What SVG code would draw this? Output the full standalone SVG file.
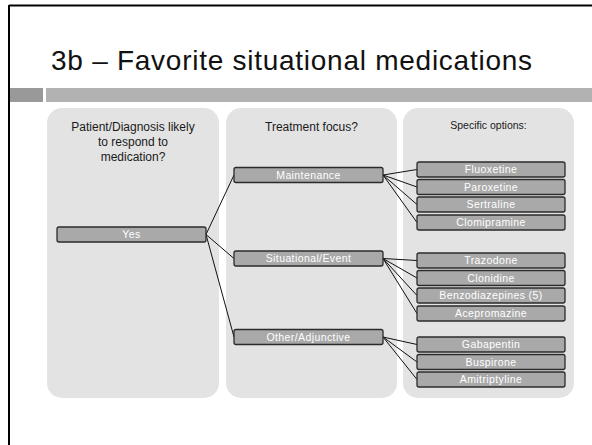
<svg xmlns="http://www.w3.org/2000/svg" width="592" height="445" viewBox="0 0 592 445">
<style>
.panel{fill:#e3e3e3}
.hdr{font-family:"Liberation Sans",Arial,sans-serif;font-size:12px;fill:#1a1a1a;text-anchor:middle}
.box{fill:#a9a9a9;stroke:#2b2b2b;stroke-width:1.3}
.lbl{font-family:"Liberation Sans",Arial,sans-serif;font-size:10.5px;letter-spacing:0.4px;fill:#ffffff;text-anchor:middle}
.con line{stroke:#111;stroke-width:1}
</style>
<rect x="0" y="0" width="592" height="445" fill="#ffffff"/>
<line x1="9" y1="5.5" x2="592" y2="5.5" stroke="#000" stroke-width="2"/>
<line x1="9" y1="5" x2="9" y2="445" stroke="#000" stroke-width="2"/>
<text x="51" y="70" font-family="'Liberation Sans',Arial,sans-serif" font-size="28" fill="#111" textLength="481" lengthAdjust="spacing">3b – Favorite situational medications</text>
<rect x="10" y="88" width="33" height="14" fill="#999999"/>
<rect x="46" y="88" width="546" height="14" fill="#b2b2b2"/>
<g id="panels">
<rect class="panel" x="47" y="108" width="172" height="290" rx="15"/>
<rect class="panel" x="226" y="108" width="171" height="290" rx="15"/>
<rect class="panel" x="403" y="108" width="171" height="290" rx="15"/>
<text class="hdr" x="133" y="131">Patient/Diagnosis likely</text>
<text class="hdr" x="133" y="146">to respond to</text>
<text class="hdr" x="133" y="161">medication?</text>
<text class="hdr" x="311.5" y="131">Treatment focus?</text>
<text class="hdr" x="488.5" y="129" style="font-size:10.5px">Specific options:</text>
</g>
<g id="connectors" class="con">
<line x1="206" y1="234.5" x2="234" y2="175"/>
<line x1="206" y1="234.5" x2="234" y2="258.5"/>
<line x1="206" y1="234.5" x2="234" y2="337"/>
<line x1="383" y1="175" x2="417" y2="169.5"/>
<line x1="383" y1="175" x2="417" y2="187"/>
<line x1="383" y1="175" x2="417" y2="204.5"/>
<line x1="383" y1="175" x2="417" y2="222.5"/>
<line x1="383" y1="258.5" x2="417" y2="260.5"/>
<line x1="383" y1="258.5" x2="417" y2="278"/>
<line x1="383" y1="258.5" x2="417" y2="295.5"/>
<line x1="383" y1="258.5" x2="417" y2="313.5"/>
<line x1="383" y1="337" x2="417" y2="344.5"/>
<line x1="383" y1="337" x2="417" y2="362"/>
<line x1="383" y1="337" x2="417" y2="379.5"/>
</g>
<g id="n-yes"><rect class="box" x="57" y="227" width="149" height="15" rx="2"/><text class="lbl" x="131.5" y="238.3">Yes</text></g>
<g id="n-maintenance"><rect class="box" x="234" y="167.5" width="149" height="15" rx="2"/><text class="lbl" x="308.5" y="178.8">Maintenance</text></g>
<g id="n-situational"><rect class="box" x="234" y="251" width="149" height="15" rx="2"/><text class="lbl" x="308.5" y="262.3">Situational/Event</text></g>
<g id="n-other"><rect class="box" x="234" y="329.5" width="149" height="15" rx="2"/><text class="lbl" x="308.5" y="340.8">Other/Adjunctive</text></g>
<g id="n-fluoxetine"><rect class="box" x="417" y="162" width="148" height="15" rx="2"/><text class="lbl" x="491" y="173.3">Fluoxetine</text></g>
<g id="n-paroxetine"><rect class="box" x="417" y="179.5" width="148" height="15" rx="2"/><text class="lbl" x="491" y="190.8">Paroxetine</text></g>
<g id="n-sertraline"><rect class="box" x="417" y="197" width="148" height="15" rx="2"/><text class="lbl" x="491" y="208.3">Sertraline</text></g>
<g id="n-clomipramine"><rect class="box" x="417" y="215" width="148" height="15" rx="2"/><text class="lbl" x="491" y="226.3">Clomipramine</text></g>
<g id="n-trazodone"><rect class="box" x="417" y="253" width="148" height="15" rx="2"/><text class="lbl" x="491" y="264.3">Trazodone</text></g>
<g id="n-clonidine"><rect class="box" x="417" y="270.5" width="148" height="15" rx="2"/><text class="lbl" x="491" y="281.8">Clonidine</text></g>
<g id="n-benzo"><rect class="box" x="417" y="288" width="148" height="15" rx="2"/><text class="lbl" x="491" y="299.3">Benzodiazepines (5)</text></g>
<g id="n-acepromazine"><rect class="box" x="417" y="306" width="148" height="15" rx="2"/><text class="lbl" x="491" y="317.3">Acepromazine</text></g>
<g id="n-gabapentin"><rect class="box" x="417" y="337" width="148" height="15" rx="2"/><text class="lbl" x="491" y="348.3">Gabapentin</text></g>
<g id="n-buspirone"><rect class="box" x="417" y="354.5" width="148" height="15" rx="2"/><text class="lbl" x="491" y="365.8">Buspirone</text></g>
<g id="n-amitriptyline"><rect class="box" x="417" y="372" width="148" height="15" rx="2"/><text class="lbl" x="491" y="383.3">Amitriptyline</text></g>
</svg>
